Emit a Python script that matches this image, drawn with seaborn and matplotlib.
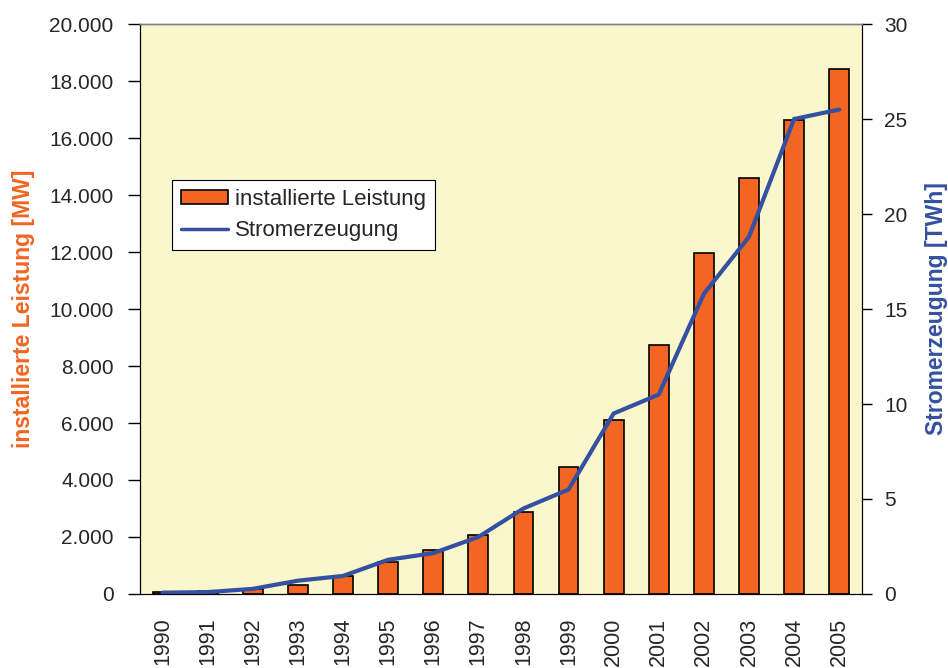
import numpy as np
import pandas as pd
import matplotlib
matplotlib.use("Agg")
import matplotlib.pyplot as plt
import seaborn as sns
from matplotlib.ticker import FuncFormatter
from matplotlib.patches import Patch
from matplotlib.lines import Line2D

# ------------------------------
# Data (Wind power in Germany)
# ------------------------------
years = ["1990", "1991", "1992", "1993", "1994", "1995", "1996", "1997",
         "1998", "1999", "2000", "2001", "2002", "2003", "2004", "2005"]
leistung_mw = [56, 106, 174, 326, 618, 1121, 1546, 2080,
               2875, 4444, 6112, 8754, 11965, 14609, 16629, 18428]
strom_twh = [0.07, 0.1, 0.27, 0.7, 0.95, 1.8, 2.15, 3.0,
             4.5, 5.5, 9.5, 10.5, 15.8, 18.8, 25.0, 25.5]

bar_color = "#F26522"
line_color = "#3450A0"
bg_color = "#FAF7CC"

df = pd.DataFrame({"Jahr": years, "Leistung": leistung_mw, "Strom": strom_twh})

sns.set_style("white")
plt.rcParams["font.family"] = ["Liberation Sans", "DejaVu Sans"]

fig = plt.figure(figsize=(9.48, 6.68), dpi=100)
ax = fig.add_axes([0.1477, 0.1108, 0.7613, 0.8532])
ax.set_facecolor(bg_color)

sns.barplot(data=df, x="Jahr", y="Leistung", color=bar_color, width=0.44,
            edgecolor="black", linewidth=1.2, saturation=1, ax=ax)

ax2 = ax.twinx()
sns.lineplot(x=np.arange(len(years)), y=df["Strom"], color=line_color,
             linewidth=3, ax=ax2)

ax.set_xlim(-0.5, len(years) - 0.5)
ax.set_ylim(0, 20000)
ax2.set_ylim(0, 30)
ax.set_yticks(np.arange(0, 20001, 2000))
ax2.set_yticks(np.arange(0, 31, 5))
ax.yaxis.set_major_formatter(FuncFormatter(lambda v, p: f"{int(v):,}".replace(",", ".")))

# ------------------------------
# Ticks: x ticks between categories, labels under the bars
# ------------------------------
ax.set_xticks(np.arange(len(years)))
ax.set_xticklabels(years, rotation=90, fontsize=15.5, va="top")
ax.set_xticks(np.arange(-0.5, len(years)), minor=True)
ax.tick_params(axis="x", which="major", length=0, pad=17)
ax.tick_params(axis="x", which="minor", length=10, width=1, direction="inout", color="black")
ax.tick_params(axis="y", length=9, width=1, direction="out", pad=10, labelsize=15, color="black")
ax2.tick_params(axis="y", length=7, width=1, direction="out", pad=9, labelsize=15, color="black")

ax.set_xlabel("")
ax.set_ylabel("installierte Leistung [MW]", color=bar_color, fontsize=16.5, fontweight="bold")
ax2.set_ylabel("Stromerzeugung [TWh]", color=line_color, fontsize=16.5, fontweight="bold")
ax.yaxis.set_label_coords(-0.145, 0.5)
ax2.yaxis.set_label_coords(1.087, 0.5)

for a in (ax, ax2):
    a.spines["left"].set_color("black")
    a.spines["bottom"].set_color("black")
    a.spines["right"].set_color("black")
    a.spines["top"].set_color("#808080")
    a.spines["top"].set_linewidth(1)

# ------------------------------
# Legend
# ------------------------------
handles = [Patch(facecolor=bar_color, edgecolor="black", linewidth=1.2, label="installierte Leistung"),
           Line2D([0], [0], color=line_color, linewidth=2.5, label="Stromerzeugung")]
leg = ax2.legend(handles=handles, loc="upper left", bbox_to_anchor=(0.0443, 0.726),
                 fontsize=16, frameon=True, fancybox=False, framealpha=1,
                 edgecolor="black", handlelength=2.1, handleheight=0.6, handletextpad=0.35,
                 borderpad=0.4, labelspacing=0.45, borderaxespad=0)
leg.get_frame().set_linewidth(0.8)

fig.savefig("out.png", dpi=100)
